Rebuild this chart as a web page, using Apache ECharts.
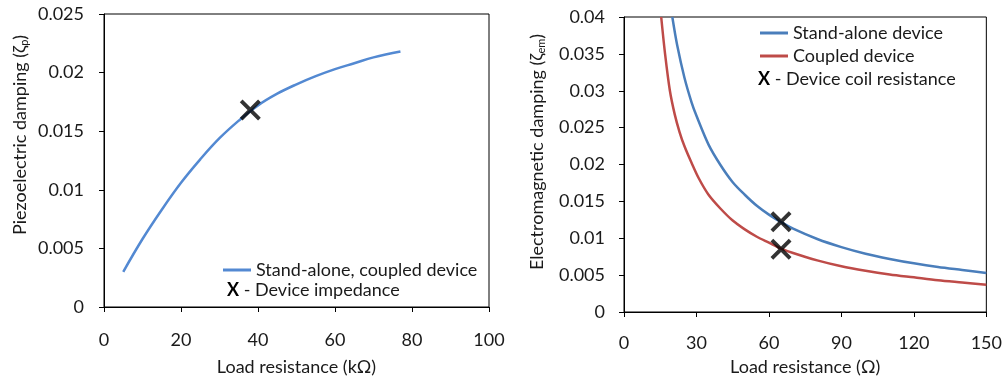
<!DOCTYPE html>
<html>
<head>
<meta charset="utf-8">
<script src="https://cdn.jsdelivr.net/npm/echarts@6/dist/echarts.min.js"></script>
<style>
  html, body { margin: 0; padding: 0; background: #fff; }
  #chart { width: 1005px; height: 383px; }
</style>
</head>
<body>
<div id="chart"></div>
<script>
// left panel: piezoelectric damping vs load resistance (kΩ)
const piezoR = [5, 10, 15, 20, 25, 30, 35, 40, 45, 50, 55, 60, 65, 70, 77];
const piezoZeta = [0.0030, 0.0058, 0.0083, 0.0106, 0.0126, 0.0144, 0.0159, 0.0172, 0.0182, 0.0190, 0.0197, 0.0203, 0.0208, 0.0213, 0.0218];
const piezoMark = [[38, 0.0168]];

// right panel: electromagnetic damping vs load resistance (Ω)
const standR = [20, 22, 25, 28, 30, 35, 40, 45, 50, 55, 60, 65, 70, 80, 90, 100, 110, 120, 130, 140, 150];
const standZeta = [0.0400, 0.0362, 0.0318, 0.0284, 0.0266, 0.0227, 0.0199, 0.0176, 0.0159, 0.0144, 0.0132, 0.0122, 0.0113, 0.0099, 0.0088, 0.0079, 0.0072, 0.0066, 0.0061, 0.0057, 0.0053];
const coupledR = [15.4, 17, 19, 21, 23, 25, 28, 31, 35, 40, 45, 50, 55, 60, 65, 70, 80, 90, 100, 110, 120, 130, 140, 150];
const coupledZeta = [0.0400, 0.0350, 0.0300, 0.0268, 0.0244, 0.0225, 0.0202, 0.0181, 0.0159, 0.0140, 0.0124, 0.0112, 0.0102, 0.0094, 0.0086, 0.0080, 0.0070, 0.0062, 0.0056, 0.0051, 0.0047, 0.0043, 0.0040, 0.0037];
const coilMarks = [[65, 0.01225], [65, 0.0085]];

const FONT = 'Lato';
const FS = 18;
const TXT = '#1a1a1a';
const crossIcon = 'path://M13,0L50,37L87,0L100,13L63,50L100,87L87,100L50,63L13,100L0,87L37,50L0,13Z';

const zip = (xs, ys) => xs.map((x, i) => [x, ys[i]]);
const fmt = v => (v === 0 ? '0' : String(+v.toFixed(3)));

function xAxisOpt(idx, max, interval, name, margin, gap) {
  return {
    gridIndex: idx, type: 'value', min: 0, max: max, interval: interval,
    name: name, nameLocation: 'middle', nameGap: gap,
    nameTextStyle: { color: TXT, fontFamily: FONT, fontSize: FS },
    axisLine: { lineStyle: { color: '#000', width: 1 } },
    axisTick: { show: true, inside: false, length: 5, lineStyle: { color: '#000' } },
    axisLabel: { color: TXT, fontFamily: FONT, fontSize: FS, margin: margin },
    splitLine: { show: false }
  };
}

function yAxisOpt(idx, max, interval, margin) {
  return {
    gridIndex: idx, type: 'value', min: 0, max: max, interval: interval,
    axisLine: { show: true, lineStyle: { color: '#000', width: 1 } },
    axisTick: { show: true, inside: false, length: 5, lineStyle: { color: '#000' } },
    axisLabel: { color: TXT, fontFamily: FONT, fontSize: FS, margin: margin, formatter: fmt },
    splitLine: { show: false }
  };
}

const chart = echarts.init(document.getElementById('chart'));
chart.setOption({
  animation: false,
  backgroundColor: '#fff',
  grid: [
    { left: 104, top: 14, width: 385, height: 293, show: true, borderColor: '#000', borderWidth: 1 },
    { left: 624, top: 17, width: 366, height: 295, show: true, borderColor: '#000', borderWidth: 1 }
  ],
  xAxis: [
    xAxisOpt(0, 100, 20, 'Load resistance (kΩ)', 24, 51),
    xAxisOpt(1, 150, 30, 'Load resistance (Ω)', 22, 46)
  ],
  yAxis: [
    yAxisOpt(0, 0.025, 0.005, 20),
    yAxisOpt(1, 0.04, 0.005, 19)
  ],
  legend: [
    {
      left: 218, top: 256, orient: 'vertical', itemWidth: 28, itemHeight: 3, icon: 'rect',
      data: ['Stand-alone, coupled device'],
      textStyle: { color: TXT, fontFamily: FONT, fontSize: FS }
    },
    {
      left: 755, top: 19, orient: 'vertical', itemWidth: 28, itemHeight: 3, icon: 'rect', itemGap: 5,
      data: ['Stand-alone device', 'Coupled device'],
      textStyle: { color: TXT, fontFamily: FONT, fontSize: FS }
    }
  ],
  graphic: [
    {
      type: 'text', x: 20, y: 135, rotation: Math.PI / 2,
      style: {
        text: 'Piezoelectric damping (ζ{s|p})',
        fill: TXT, font: FS + 'px ' + FONT, align: 'center', verticalAlign: 'middle',
        rich: { s: { fontSize: 11, fontFamily: FONT, fill: TXT, padding: [9, 0, 0, 0] } }
      }
    },
    {
      type: 'text', x: 537, y: 152, rotation: Math.PI / 2,
      style: {
        text: 'Electromagnetic damping (ζ{s|em})',
        fill: TXT, font: FS + 'px ' + FONT, align: 'center', verticalAlign: 'middle',
        rich: { s: { fontSize: 11, fontFamily: FONT, fill: TXT, padding: [9, 0, 0, 0] } }
      }
    },
    {
      type: 'text', x: 227, y: 290,
      style: {
        text: '{b|X} - Device impedance',
        fill: TXT, font: FS + 'px ' + FONT, verticalAlign: 'middle',
        rich: { b: { fontWeight: 'bold', fontSize: FS, fontFamily: FONT, fill: '#000' } }
      }
    },
    {
      type: 'text', x: 758, y: 79,
      style: {
        text: '{b|X} - Device coil resistance',
        fill: TXT, font: FS + 'px ' + FONT, verticalAlign: 'middle',
        rich: { b: { fontWeight: 'bold', fontSize: FS, fontFamily: FONT, fill: '#000' } }
      }
    }
  ],
  series: [
    {
      name: 'Stand-alone, coupled device', type: 'line', xAxisIndex: 0, yAxisIndex: 0,
      data: zip(piezoR, piezoZeta), smooth: 0.4, showSymbol: false,
      lineStyle: { color: '#5389D2', width: 2.5 }, itemStyle: { color: '#5389D2' }
    },
    {
      name: 'Device impedance', type: 'scatter', xAxisIndex: 0, yAxisIndex: 0,
      data: piezoMark, symbol: crossIcon, symbolSize: 21, itemStyle: { color: '#000' }, z: 5
    },
    {
      name: 'Stand-alone device', type: 'line', xAxisIndex: 1, yAxisIndex: 1,
      data: zip(standR, standZeta), smooth: 0.3, showSymbol: false,
      lineStyle: { color: '#4A7EBB', width: 2.5 }, itemStyle: { color: '#4A7EBB' }
    },
    {
      name: 'Coupled device', type: 'line', xAxisIndex: 1, yAxisIndex: 1,
      data: zip(coupledR, coupledZeta), smooth: 0.3, showSymbol: false,
      lineStyle: { color: '#BE4B48', width: 2.5 }, itemStyle: { color: '#BE4B48' }
    },
    {
      name: 'Device coil resistance', type: 'scatter', xAxisIndex: 1, yAxisIndex: 1,
      data: coilMarks, symbol: crossIcon, symbolSize: 21, itemStyle: { color: '#000' }, z: 5
    }
  ]
});
</script>
</body>
</html>
